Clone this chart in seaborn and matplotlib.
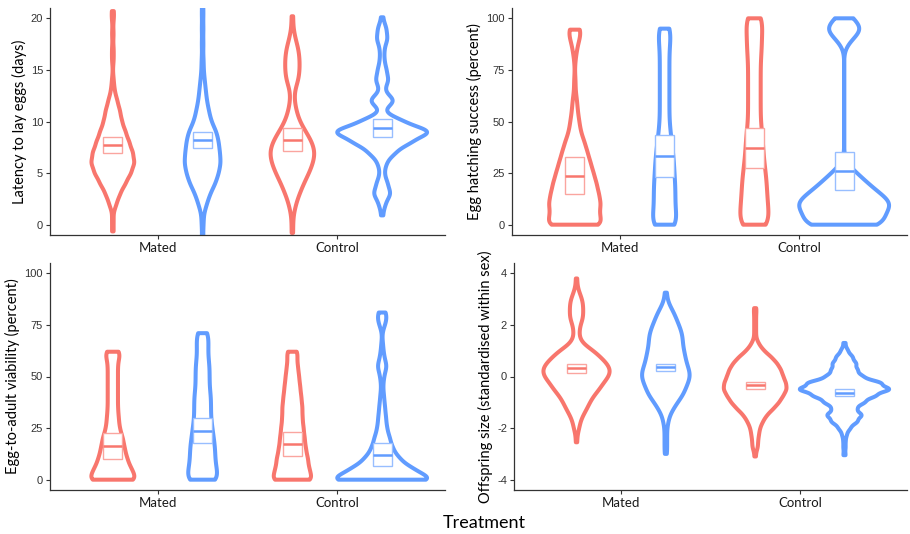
import numpy as np
import pandas as pd
import seaborn as sns
import matplotlib.pyplot as plt
from matplotlib.patches import Rectangle

treatments = ["Mated", "Control"]
sexes = ["Female", "Male"]
colors = {"Female": "#F8766D", "Male": "#619CFF"}

# ---------------- Panel 1: latency to lay eggs (days) ----------------
lat_f_mated_v = [-0.65, 0.5, 2, 3, 4, 5, 6, 7, 8, 9, 10, 11, 12, 13, 14, 16, 17, 18.5, 20, 20.7]
lat_f_mated_n = [1, 1, 4, 8, 14, 20, 24, 22, 18, 14, 10, 8, 5, 2, 1, 1, 1, 1, 1, 1]
lat_m_mated_v = [-1.5, 0, 1, 2, 3, 4, 5, 6, 7, 8, 9, 10, 11, 12, 13, 14, 15, 16, 17.5, 19, 20.5, 22]
lat_m_mated_n = [1, 1, 1, 4, 7, 12, 15, 17, 16, 15, 13, 8, 6, 4, 3, 2, 1, 1, 1, 1, 1, 1]
lat_f_control_v = [-0.8, 0.5, 1.5, 2, 3, 4, 5, 6, 7, 8, 9, 10, 11, 12, 13, 14, 15, 16, 17, 18, 19, 20.2]
lat_f_control_n = [1, 1, 1, 3, 7, 11, 16, 20, 22, 19, 13, 7, 4, 2, 2, 6, 7, 7, 6, 3, 1, 1]
lat_m_control_v = [0.9, 2, 3, 4, 5, 6, 7, 8, 9, 10, 11, 12, 13, 14, 15, 16, 17, 18, 19, 20.1]
lat_m_control_n = [2, 6, 16, 10, 4, 8, 24, 52, 92, 38, 2, 24, 4, 12, 8, 4, 4, 10, 8, 2]
lat_mean = [7.7, 8.2, 8.25, 9.35]
lat_se = [0.8, 0.75, 1.1, 0.85]

# ---------------- Panel 2: egg hatching success (percent) ----------------
hat_f_mated_v = [0, 5, 10, 15, 20, 25, 30, 35, 40, 45, 50, 55, 60, 65, 70, 80, 85, 90, 94.5]
hat_f_mated_n = [39, 32, 35, 32, 29, 25, 21, 17, 13, 8, 6, 4, 3, 1, 1, 1, 3, 6, 8]
hat_m_mated_v = [0, 5, 10, 15, 20, 25, 30, 35, 40, 45, 50, 55, 60, 65, 70, 75, 80, 85, 90, 95]
hat_m_mated_n = [13, 9, 9, 9, 9, 8, 8, 7, 6, 5, 4, 4, 4, 4, 4, 4, 4, 4, 5, 6]
hat_f_control_v = [0, 5, 10, 15, 20, 25, 30, 35, 40, 45, 50, 55, 60, 65, 70, 75, 80, 85, 90, 95, 100]
hat_f_control_n = [14, 11, 11, 10, 10, 9, 8, 7, 7, 6, 5, 5, 5, 5, 5, 5, 5, 6, 6, 6, 8]
hat_m_control_v = [0, 5, 10, 15, 20, 25, 30, 90, 95, 100]
hat_m_control_n = [90, 76, 104, 72, 48, 26, 2, 16, 44, 16]
hat_mean = [23.8, 33.2, 37.2, 25.9]
hat_se = [8.9, 10.3, 9.7, 9.2]

# ---------------- Panel 3: egg-to-adult viability (percent) ----------------
via_f_mated_v = [0, 5, 10, 15, 20, 25, 30, 35, 40, 45, 50, 55, 60, 62]
via_f_mated_n = [30, 22, 17, 14, 12, 8, 7, 6, 6, 6, 6, 6, 6, 5]
via_m_mated_v = [0, 5, 10, 15, 20, 25, 30, 35, 40, 45, 50, 55, 60, 65, 69, 71]
via_m_mated_n = [12, 10, 9, 9, 8, 7, 6, 6, 6, 5, 5, 5, 4, 4, 2, 3]
via_f_control_v = [0, 5, 10, 15, 20, 25, 30, 35, 40, 45, 50, 55, 60, 62]
via_f_control_n = [19, 15, 14, 12, 11, 10, 9, 9, 8, 7, 6, 5, 3, 3]
via_m_control_v = [0, 5, 10, 15, 20, 25, 30, 35, 40, 45, 50, 55, 60, 65, 75, 78, 81]
via_m_control_n = [112, 64, 36, 22, 16, 10, 8, 6, 4, 2, 4, 10, 4, 2, 4, 6, 6]
via_mean = [16.5, 23.8, 17.3, 12.1]
via_se = [6.3, 6.0, 5.6, 5.6]

# ---------------- Panel 4: offspring size (standardised within sex) ----------------
siz_f_mated_v = [-2.55, -2.25, -2.0, -1.75, -1.5, -1.25, -1.0, -0.75, -0.5, -0.25, 0, 0.25, 0.5,
                 0.75, 1.0, 1.25, 1.5, 1.75, 2.0, 2.25, 2.5, 2.75, 3.0, 3.25, 3.5, 3.8]
siz_f_mated_n = [1, 1, 3, 4, 7, 11, 14, 18, 24, 28, 34, 36, 32, 25, 18, 7, 3, 3, 4, 7, 7, 7, 6, 3, 1, 1]
siz_m_mated_v = [-3.0, -2.75, -2.5, -2.25, -2.0, -1.75, -1.5, -1.25, -1.0, -0.75, -0.5, -0.25, 0,
                 0.25, 0.5, 0.75, 1.0, 1.25, 1.5, 1.75, 2.0, 2.25, 2.5, 2.75, 3.0, 3.25]
siz_m_mated_n = [1, 1, 1, 1, 1, 2, 3, 6, 9, 13, 15, 17, 19, 18, 16, 15, 14, 13, 13, 12, 10, 8, 6, 3, 1, 1]
siz_f_control_v = [-3.1, -2.75, -2.5, -2.25, -2.0, -1.75, -1.5, -1.25, -1.0, -0.75, -0.5, -0.25, 0,
                   0.25, 0.5, 0.75, 1.0, 1.25, 1.5, 1.75, 2.0, 2.25, 2.5, 2.65]
siz_f_control_n = [1, 3, 3, 4, 5, 8, 12, 19, 25, 29, 33, 32, 29, 27, 23, 17, 9, 4, 1, 1, 1, 1, 1, 1]
siz_m_control_v = [-3.05, -2.75, -2.5, -2.25, -2.0, -1.75, -1.5, -1.25, -1.0, -0.75, -0.5, -0.25, 0,
                   0.25, 0.5, 0.75, 1.0, 1.3]
siz_m_control_n = [2, 2, 2, 4, 10, 22, 30, 20, 34, 52, 78, 62, 30, 22, 20, 14, 6, 2]
siz_mean = [0.32, 0.35, -0.34, -0.63]
siz_se = [0.18, 0.14, 0.14, 0.14]


def build(groups):
    rows = []
    for (sex, trt), (vals, cnts) in groups.items():
        for v, c in zip(vals, cnts):
            rows += [(sex, trt, v)] * c
    return pd.DataFrame(rows, columns=["sex", "treatment", "value"])


panels = [
    dict(df=build({("Female", "Mated"): (lat_f_mated_v, lat_f_mated_n),
                   ("Male", "Mated"): (lat_m_mated_v, lat_m_mated_n),
                   ("Female", "Control"): (lat_f_control_v, lat_f_control_n),
                   ("Male", "Control"): (lat_m_control_v, lat_m_control_n)}),
         mean=lat_mean, se=lat_se, ylim=(-1, 21), yticks=[0, 5, 10, 15, 20],
         ylabel="Latency to lay eggs (days)", bw=0.45,
         rect=[50 / 910, 299 / 534, 395 / 910, 227 / 534]),
    dict(df=build({("Female", "Mated"): (hat_f_mated_v, hat_f_mated_n),
                   ("Male", "Mated"): (hat_m_mated_v, hat_m_mated_n),
                   ("Female", "Control"): (hat_f_control_v, hat_f_control_n),
                   ("Male", "Control"): (hat_m_control_v, hat_m_control_n)}),
         mean=hat_mean, se=hat_se, ylim=(-5, 105), yticks=[0, 25, 50, 75, 100],
         ylabel="Egg hatching success (percent)", bw=0.42,
         rect=[512 / 910, 299 / 534, 395 / 910, 227 / 534]),
    dict(df=build({("Female", "Mated"): (via_f_mated_v, via_f_mated_n),
                   ("Male", "Mated"): (via_m_mated_v, via_m_mated_n),
                   ("Female", "Control"): (via_f_control_v, via_f_control_n),
                   ("Male", "Control"): (via_m_control_v, via_m_control_n)}),
         mean=via_mean, se=via_se, ylim=(-5, 105), yticks=[0, 25, 50, 75, 100],
         ylabel="Egg-to-adult viability (percent)", bw=0.42,
         rect=[50 / 910, 44 / 534, 395 / 910, 227 / 534]),
    dict(df=build({("Female", "Mated"): (siz_f_mated_v, siz_f_mated_n),
                   ("Male", "Mated"): (siz_m_mated_v, siz_m_mated_n),
                   ("Female", "Control"): (siz_f_control_v, siz_f_control_n),
                   ("Male", "Control"): (siz_m_control_v, siz_m_control_n)}),
         mean=siz_mean, se=siz_se, ylim=(-4.4, 4.4), yticks=[-4, -2, 0, 2, 4],
         ylabel="Offspring size (standardised within sex)", bw=0.52,
         rect=[514 / 910, 44 / 534, 393 / 910, 227 / 534]),
]

sns.set_style("ticks")
plt.rcParams["font.family"] = ["Lato", "DejaVu Sans"]

fig = plt.figure(figsize=(9.1, 5.34), dpi=100)
axis_col = "#333333"
box_w = 0.105
offsets = {"Female": -0.25, "Male": 0.25}

for p in panels:
    ax = fig.add_axes(p["rect"])
    sns.violinplot(data=p["df"], x="treatment", y="value", hue="sex",
                   order=treatments, hue_order=sexes, palette=colors,
                   fill=False, linewidth=2.9, cut=0, width=1.0, gap=0,
                   bw_adjust=p["bw"], gridsize=300, inner=None,
                   density_norm="count", common_norm=True, legend=False, ax=ax)
    keys = [("Female", 0), ("Male", 0), ("Female", 1), ("Male", 1)]
    for (sex, ti), m, s in zip(keys, p["mean"], p["se"]):
        xc = ti + offsets[sex]
        ax.add_patch(Rectangle((xc - box_w / 2, m - s), box_w, 2 * s,
                               facecolor="white", edgecolor=colors[sex],
                               linewidth=0.9, zorder=5))
        ax.add_patch(Rectangle((xc - box_w / 2, m - s), box_w, 2 * s,
                               facecolor="none", edgecolor="white",
                               alpha=0.35, linewidth=0.9, zorder=6))
        ax.plot([xc - box_w / 2, xc + box_w / 2], [m, m], color=colors[sex],
                linewidth=1.8, zorder=7, solid_capstyle="butt")
    ax.set_xlim(-0.6, 1.6)
    ax.set_ylim(*p["ylim"])
    ax.set_yticks(p["yticks"])
    ax.set_yticklabels([str(t) for t in p["yticks"]], family="Liberation Sans",
                       fontsize=8, color="#333333")
    ax.set_xticks([0, 1])
    ax.set_xticklabels(treatments, fontsize=9.5, color="#1a1a1a")
    ax.set_xlabel("")
    ax.set_ylabel(p["ylabel"], fontsize=10.5, color="black", labelpad=3)
    for side in ["top", "right"]:
        ax.spines[side].set_visible(False)
    for side in ["left", "bottom"]:
        ax.spines[side].set_color(axis_col)
        ax.spines[side].set_linewidth(0.9)
    ax.tick_params(axis="both", length=3, width=0.8, color=axis_col, pad=2)

fig.text(484 / 910, 1 - 523 / 534, "Treatment", ha="center", va="center",
         fontsize=13, color="black")

fig.savefig("out.png", dpi=100, facecolor="white")
